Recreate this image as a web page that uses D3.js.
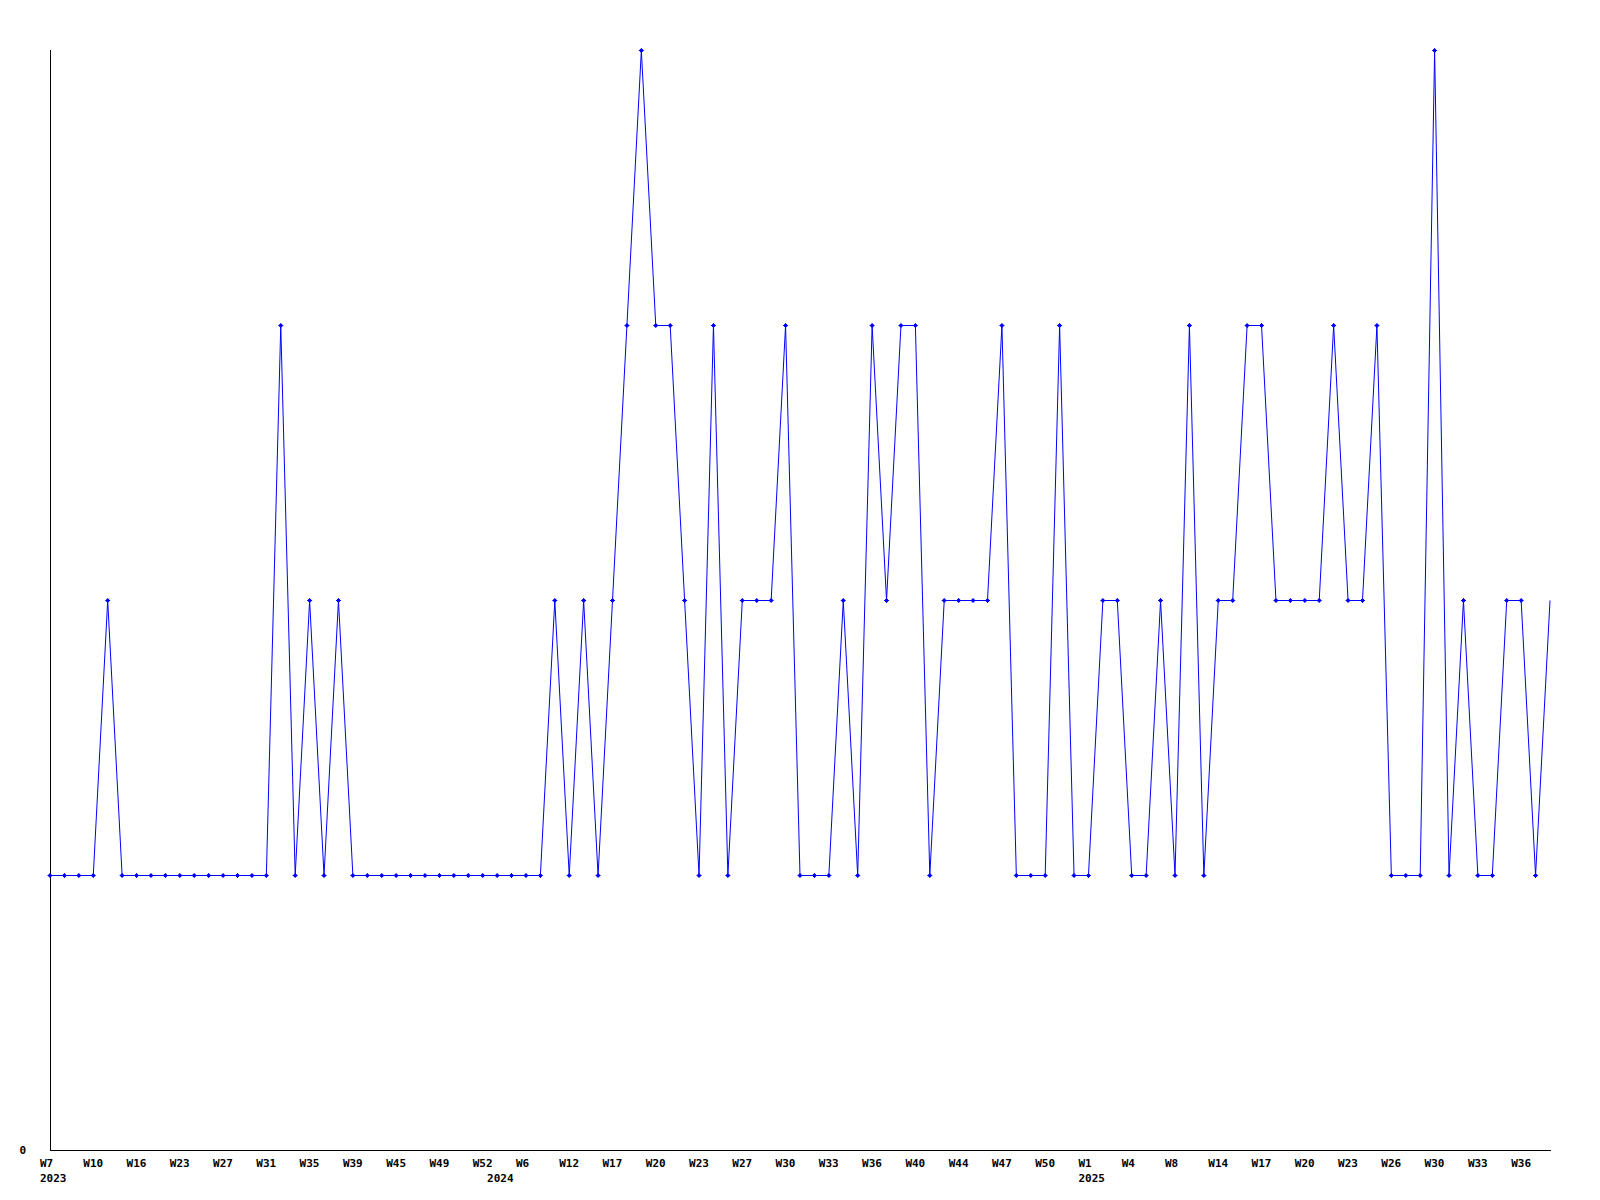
<!DOCTYPE html>
<html>
<head>
<meta charset="utf-8">
<script src="https://cdn.jsdelivr.net/npm/d3@7"></script>
<style>
  body { margin: 0; background: #fff; }
  text { font-family: "DejaVu Sans Mono", monospace; font-size: 11px; font-weight: bold; fill: #000; }
</style>
</head>
<body>
<svg id="canvas" width="1600" height="1200"></svg>
<script>
/************* Data **************/
// weeks that have data (x is categorical, one slot per week listed)
var weekKeys = [
  "2023-W7","2023-W8","2023-W9","2023-W10","2023-W12","2023-W14","2023-W16","2023-W18","2023-W20",
  "2023-W23","2023-W24","2023-W25","2023-W27","2023-W28","2023-W30","2023-W31","2023-W32","2023-W33",
  "2023-W35","2023-W36","2023-W37","2023-W39","2023-W41","2023-W43","2023-W45","2023-W46","2023-W47",
  "2023-W49","2023-W50","2023-W51","2023-W52",
  "2024-W2","2024-W4","2024-W6","2024-W8","2024-W10","2024-W12","2024-W14","2024-W15","2024-W17",
  "2024-W18","2024-W19","2024-W20","2024-W21","2024-W22","2024-W23","2024-W24","2024-W26","2024-W27",
  "2024-W28","2024-W29","2024-W30","2024-W31","2024-W32","2024-W33","2024-W34","2024-W35","2024-W36",
  "2024-W37","2024-W39","2024-W40","2024-W42","2024-W43","2024-W44","2024-W45","2024-W46","2024-W47",
  "2024-W48","2024-W49","2024-W50","2024-W51","2024-W52",
  "2025-W1","2025-W2","2025-W3","2025-W4","2025-W6","2025-W7","2025-W8","2025-W10","2025-W12",
  "2025-W14","2025-W15","2025-W16","2025-W17","2025-W18","2025-W19","2025-W20","2025-W21","2025-W22",
  "2025-W23","2025-W24","2025-W25","2025-W26","2025-W28","2025-W29","2025-W30","2025-W31","2025-W32",
  "2025-W33","2025-W34","2025-W35","2025-W36","2025-W37","2025-W38"
];

var counts = [
  1,1,1,1,2,1,1,1,1,
  1,1,1,1,1,1,1,3,1,
  2,1,2,1,1,1,1,1,1,
  1,1,1,1,
  1,1,1,1,2,1,2,1,2,
  3,4,3,3,2,1,3,1,2,
  2,2,3,1,1,1,2,1,3,
  2,3,3,1,2,2,2,2,3,
  1,1,1,3,1,
  1,2,2,1,1,2,1,3,1,
  2,2,3,3,2,2,2,2,3,
  2,2,3,1,1,1,4,1,2,
  1,1,2,2,1,2
];

var yTicks = [0];

/********** Initialisation *********/
var svg = d3.select("#canvas");
var plotLeft = 50, plotRight = 1550, plotTop = 50, plotBottom = 1150;

var data = weekKeys.map(function(k, i) { return {key: k, value: counts[i]}; });

var x = d3.scalePoint()
    .domain(weekKeys)
    .range([plotLeft, plotRight]);

var y = d3.scaleLinear()
    .domain([0, d3.max(counts)])
    .range([plotBottom + 0.5, plotTop + 0.5]);

/************* Axes **************/
var axes = svg.append("g").attr("class", "axes");

axes.append("line")
    .attr("x1", plotLeft + 0.5).attr("x2", plotLeft + 0.5)
    .attr("y1", plotTop).attr("y2", plotBottom + 1)
    .attr("stroke", "#000");

axes.append("line")
    .attr("x1", plotLeft).attr("x2", plotRight + 1)
    .attr("y1", plotBottom + 0.5).attr("y2", plotBottom + 0.5)
    .attr("stroke", "#000");

axes.selectAll("text.ylab")
    .data(yTicks)
    .enter()
    .append("text")
    .attr("class", "ylab")
    .attr("x", 26)
    .attr("y", function(d) { return y(d); })
    .attr("dy", "0.35em")
    .attr("text-anchor", "end")
    .text(function(d) { return d; });

// every third week gets a label; first week of each year also gets the year
var shown = weekKeys.filter(function(k, i) { return i % 3 == 0; });

axes.selectAll("text.week")
    .data(shown)
    .enter()
    .append("text")
    .attr("class", "week")
    .attr("x", function(d) { return x(d) - 10; })
    .attr("y", 1167)
    .text(function(d) { return d.split("-")[1]; });

var firstOfYear = weekKeys.filter(function(k, i) {
    return i == 0 || k.split("-")[0] != weekKeys[i - 1].split("-")[0];
});

axes.selectAll("text.year")
    .data(firstOfYear)
    .enter()
    .append("text")
    .attr("class", "year")
    .attr("x", function(d) { return x(d) - 10; })
    .attr("y", 1182)
    .text(function(d) { return d.split("-")[0]; });

/************* Line **************/
var line = d3.line()
    .x(function(d) { return x(d.key); })
    .y(function(d) { return y(d.value); });

svg.append("path")
    .datum(data)
    .attr("fill", "none")
    .attr("stroke", "#0000ff")
    .attr("stroke-width", 1)
    .attr("d", line);

// markers (the last, still open week has none)
var marks = svg.append("g")
    .attr("class", "marks")
    .selectAll("g")
    .data(data.slice(0, data.length - 1))
    .enter()
    .append("g")
    .attr("transform", function(d) { return "translate(" + x(d.key) + "," + y(d.value) + ")"; });

marks.append("rect")
    .attr("x", -1.5).attr("y", -1.5)
    .attr("width", 3).attr("height", 3)
    .attr("fill", "#0000ff");

marks.append("path")
    .attr("d", "M-2.5,0H2.5M0,-2.5V2.5")
    .attr("stroke", "#0000ff")
    .attr("stroke-width", 1);
</script>
</body>
</html>
